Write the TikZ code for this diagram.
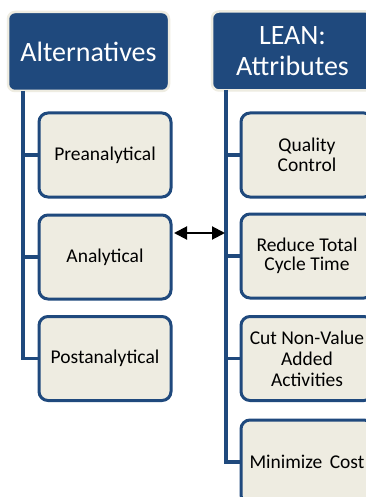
\documentclass[tikz,border=0pt]{standalone}
\usepackage{fontspec}
\setmainfont{Carlito}
\usetikzlibrary{arrows.meta}
\definecolor{navy}{HTML}{1F497D}
\definecolor{paper}{HTML}{EEECE1}
\tikzset{
  header/.style={draw=paper, line width=2.5pt, fill=navy, rounded corners=7pt,
    text=white, font=\fontsize{28}{31}\selectfont, align=center,
    minimum width=161pt, minimum height=79pt, inner sep=0pt},
  item/.style={draw=navy, line width=3pt, fill=paper, rounded corners=9pt,
    text=black, font=\fontsize{19.5}{20}\selectfont, align=center,
    minimum width=132pt, minimum height=84pt, inner sep=0pt},
  conn/.style={draw=navy, line width=3.5pt},
  link/.style={draw=black, line width=2pt, {Triangle[length=13pt,width=13pt]}-{Triangle[length=13pt,width=13pt]}}
}
\begin{document}
\begin{tikzpicture}[x=1pt, y=-1pt]
\useasboundingbox (0,0) rectangle (366,497);
\clip (0,0) rectangle (366,497);
\fill[white] (0,0) rectangle (366,497);

% left column
\coordinate (lspine) at (23,91);
\node[header] (alt) at (88.5,51.5) {Alternatives};
\node[item] (pre) at (105,155) {Preanalytical};
\node[item] (ana) at (105,257) {Analytical};
\node[item] (post) at (105,358.5) {Postanalytical};
\draw[conn] (lspine) |- (post.west);
\draw[conn] (lspine |- pre.west) -- (pre.west);
\draw[conn] (lspine |- ana.west) -- (ana.west);

% right column
\coordinate (rspine) at (226,90);
\node[header] (lean) at (292.5,51) {LEAN:\\Attributes};
\node[item] (qc) at (307,155) {Quality\\Control};
\node[item, font=\fontsize{19.5}{19}\selectfont] (rtc) at (307,256) {Reduce Total\\Cycle Time};
\node[item, font=\fontsize{19.5}{21}\selectfont] (cut) at (307,358.5) {Cut Non-Value\\Added\\Activities};
\node[item] (cost) at (307,462) {Minimize\hspace{3pt} Cost};
\draw[conn] (rspine) |- (cost.west);
\draw[conn] (rspine |- qc.west) -- (qc.west);
\draw[conn] (rspine |- rtc.west) -- (rtc.west);
\draw[conn] (rspine |- cut.west) -- (cut.west);

% two-way link between the columns
\coordinate (arrL) at (174,233);
\coordinate (arrR) at (225,233);
\draw[link] (arrL) -- (arrR);
\end{tikzpicture}
\end{document}
